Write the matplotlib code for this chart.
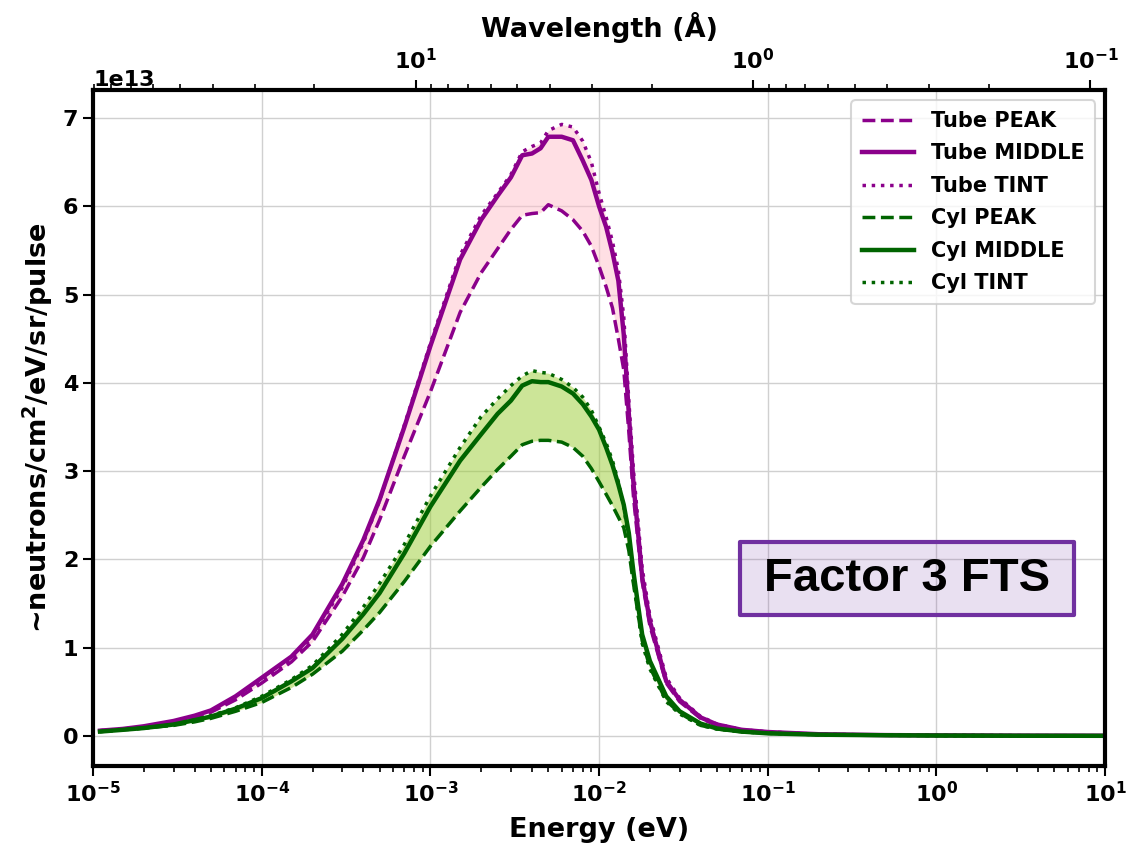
import matplotlib
matplotlib.use("Agg")
import matplotlib.pyplot as plt
from matplotlib.patches import Rectangle
import numpy as np

plt.rcParams['font.weight'] = 'bold'
plt.rcParams['axes.labelweight'] = 'bold'
plt.rcParams['mathtext.default'] = 'bf'

# energy grid (eV)
energy = np.array([
    1.1e-5, 1.5e-5, 2e-5, 3e-5, 4e-5, 5e-5, 7e-5,
    1e-4, 1.5e-4, 2e-4, 3e-4, 4e-4, 5e-4, 7e-4,
    1e-3, 1.5e-3, 2e-3, 2.5e-3, 3e-3, 3.5e-3, 4e-3, 4.5e-3, 5e-3, 6e-3, 7e-3, 8e-3, 9e-3,
    1e-2, 1.1e-2, 1.2e-2, 1.3e-2, 1.4e-2, 1.5e-2, 1.6e-2, 1.8e-2, 2e-2, 2.5e-2, 3e-2, 4e-2, 5e-2, 7e-2,
    0.1, 0.2, 0.5, 1.0, 3.0, 10.0])

# flux in units of 1e13
tube_peak = np.array([
    0.06, 0.08, 0.10, 0.16, 0.21, 0.27, 0.41,
    0.60, 0.84, 1.07, 1.58, 2.02, 2.45, 3.17,
    3.90, 4.80, 5.25, 5.52, 5.74, 5.90, 5.92, 5.93, 6.02, 5.95, 5.85, 5.72, 5.55,
    5.32, 5.09, 4.85, 4.50, 4.15, 3.45, 2.70, 1.75, 1.25, 0.60, 0.39, 0.20, 0.12, 0.07,
    0.045, 0.02, 0.01, 0.007, 0.004, 0.003])
tube_middle = np.array([
    0.06, 0.08, 0.11, 0.17, 0.23, 0.29, 0.45,
    0.66, 0.90, 1.15, 1.72, 2.22, 2.68, 3.50,
    4.42, 5.40, 5.85, 6.12, 6.33, 6.58, 6.60, 6.66, 6.79, 6.79, 6.75, 6.52, 6.30,
    6.00, 5.77, 5.48, 5.16, 4.55, 3.65, 2.85, 1.80, 1.30, 0.62, 0.41, 0.21, 0.13, 0.07,
    0.045, 0.02, 0.01, 0.007, 0.004, 0.003])
tube_tint = np.array([
    0.06, 0.08, 0.10, 0.16, 0.22, 0.28, 0.43,
    0.63, 0.87, 1.12, 1.68, 2.19, 2.67, 3.52,
    4.45, 5.45, 5.90, 6.15, 6.36, 6.62, 6.68, 6.72, 6.86, 6.93, 6.90, 6.74, 6.50,
    6.15, 5.88, 5.60, 5.28, 4.75, 3.80, 3.00, 1.90, 1.36, 0.66, 0.43, 0.22, 0.135, 0.072,
    0.046, 0.02, 0.01, 0.007, 0.004, 0.003])
cyl_peak = np.array([
    0.05, 0.07, 0.09, 0.12, 0.16, 0.20, 0.28,
    0.38, 0.55, 0.70, 0.96, 1.20, 1.40, 1.75,
    2.15, 2.55, 2.82, 3.02, 3.17, 3.30, 3.34, 3.35, 3.35, 3.33, 3.27, 3.17, 3.03,
    2.88, 2.74, 2.61, 2.48, 2.36, 2.10, 1.72, 1.08, 0.78, 0.40, 0.26, 0.12, 0.08, 0.048,
    0.03, 0.015, 0.008, 0.005, 0.003, 0.002])
cyl_middle = np.array([
    0.05, 0.07, 0.09, 0.13, 0.18, 0.22, 0.31,
    0.43, 0.62, 0.77, 1.10, 1.38, 1.62, 2.07,
    2.60, 3.12, 3.42, 3.65, 3.80, 3.97, 4.02, 4.01, 4.01, 3.96, 3.88, 3.76, 3.62,
    3.47, 3.27, 3.07, 2.85, 2.62, 2.30, 1.85, 1.15, 0.85, 0.45, 0.28, 0.14, 0.085, 0.05,
    0.03, 0.015, 0.008, 0.005, 0.003, 0.002])
cyl_tint = np.array([
    0.05, 0.07, 0.09, 0.13, 0.18, 0.23, 0.32,
    0.45, 0.64, 0.80, 1.15, 1.46, 1.73, 2.17,
    2.72, 3.27, 3.62, 3.82, 3.97, 4.08, 4.14, 4.12, 4.11, 4.04, 3.95, 3.84, 3.69,
    3.50, 3.32, 3.12, 2.88, 2.60, 2.22, 1.75, 1.05, 0.76, 0.39, 0.25, 0.12, 0.08, 0.046,
    0.03, 0.015, 0.008, 0.005, 0.003, 0.002])

scale = 1e13
purple = '#8B008B'
green = '#006400'

fig = plt.figure(figsize=(11.32, 8.48), dpi=100)
ax = fig.add_axes([0.0822, 0.0967, 0.8941, 0.7972])

ax.fill_between(energy, tube_peak * scale, tube_tint * scale, color='pink', alpha=0.5, lw=0)
ax.fill_between(energy, cyl_peak * scale, cyl_tint * scale, color='yellowgreen', alpha=0.5, lw=0)

ax.plot(energy, tube_peak * scale, '--', color=purple, lw=2.5, label='Tube PEAK')
ax.plot(energy, tube_middle * scale, '-', color=purple, lw=3.2, label='Tube MIDDLE')
ax.plot(energy, tube_tint * scale, ':', color=purple, lw=2.5, label='Tube TINT')
ax.plot(energy, cyl_peak * scale, '--', color=green, lw=2.5, label='Cyl PEAK')
ax.plot(energy, cyl_middle * scale, '-', color=green, lw=3.2, label='Cyl MIDDLE')
ax.plot(energy, cyl_tint * scale, ':', color=green, lw=2.5, label='Cyl TINT')

ax.set_xscale('log')
ax.set_xlim(1e-5, 1e1)
ax.set_ylim(-0.34e13, 7.32e13)
ax.grid(True, color='#d0d0d0', lw=1)
ax.set_axisbelow(True)

for s in ax.spines.values():
    s.set_linewidth(3)
ax.tick_params(which='major', length=7, width=1.5, labelsize=16)
ax.tick_params(which='minor', length=4, width=1.2)
ax.yaxis.get_offset_text().set_fontsize(16)
ax.yaxis.get_offset_text().set_fontweight('bold')

ax.set_xlabel('Energy (eV)', fontsize=19.5, fontweight='bold', labelpad=8)
ax.set_ylabel(r'~neutrons/cm$^2$/eV/sr/pulse', fontsize=19.5, fontweight='bold', labelpad=6)


def e2lam(e):
    e = np.clip(e, 1e-12, None)
    return 0.28601 / np.sqrt(e)


def lam2e(l):
    l = np.clip(l, 1e-12, None)
    return (0.28601 / l) ** 2


top = ax.secondary_xaxis('top', functions=(e2lam, lam2e))
top.set_xlabel('Wavelength (Å)', fontsize=19.5, fontweight='bold', labelpad=8)
top.tick_params(which='major', length=7, width=1.5, labelsize=16, pad=5)
top.tick_params(which='minor', length=4, width=1.2)

leg = ax.legend(loc='upper right', fontsize=15, handlelength=2.5, borderpad=0.5,
                labelspacing=0.6)
leg.get_frame().set_linewidth(1.5)

# "Factor 3 FTS" label box
ax.add_patch(Rectangle((0.639, 0.2234), 0.330, 0.108, transform=ax.transAxes,
                       facecolor=(0.44, 0.19, 0.63, 0.15), edgecolor='#7030A0',
                       linewidth=3, joinstyle='round', zorder=4))
ax.text(0.804, 0.277, 'Factor 3 FTS', transform=ax.transAxes, ha='center', va='center',
        fontsize=34, fontweight='bold', family=['Liberation Sans', 'DejaVu Sans'], zorder=5)

fig.savefig('out.png', dpi=100)
